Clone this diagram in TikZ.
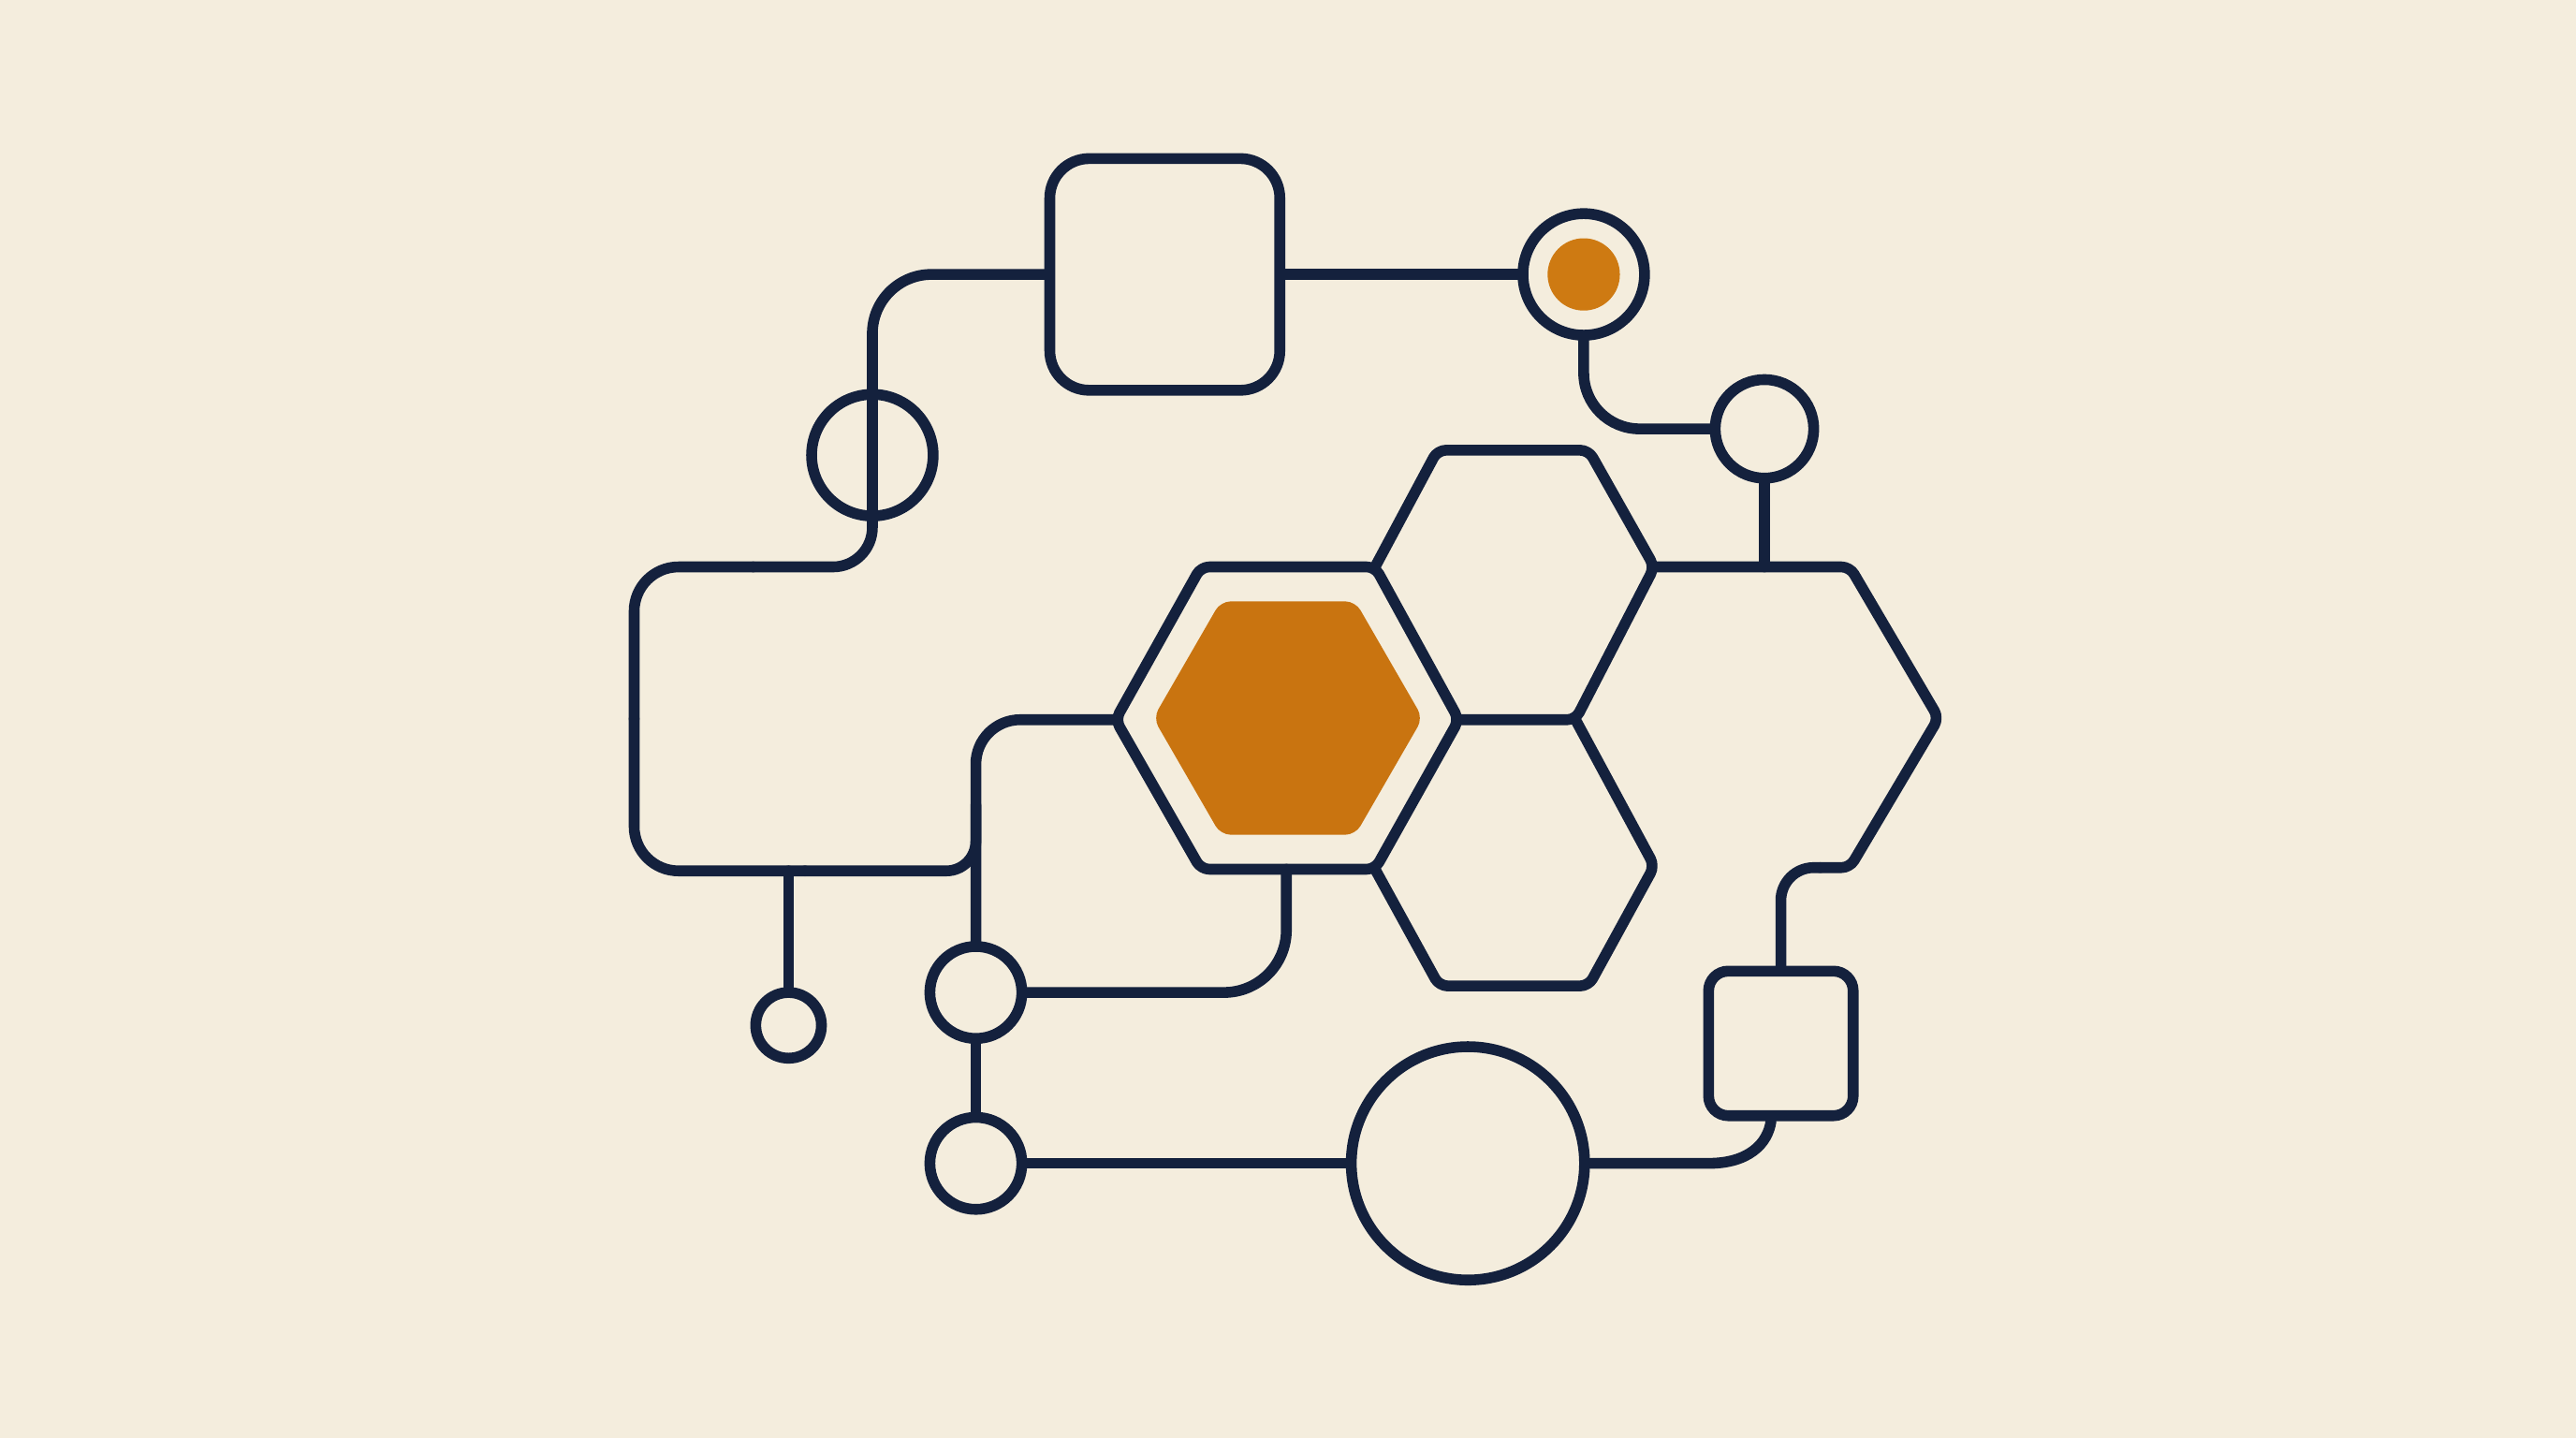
\documentclass[tikz,border=0pt]{standalone}
\usetikzlibrary{calc}
\definecolor{navy}{HTML}{14213D}
\definecolor{ochre}{HTML}{C97410}
\definecolor{dotc}{HTML}{CE7A12}
\definecolor{paper}{HTML}{F4EDDD}
\begin{document}
\begin{tikzpicture}[x=0.5pt,y=-0.5pt,
  conn/.style={draw=navy, line width=3.3pt, line cap=round, line join=round},
  ring/.style={circle, draw=navy, line width=3.3pt, inner sep=0pt},
  box/.style={rectangle, draw=navy, line width=3.3pt, inner sep=0pt},
  hexline/.style={conn, rounded corners=2.5pt}]
\fill[paper] (0,0) rectangle (1568,875);
\useasboundingbox (0,0) rectangle (1568,875);

% hexagon vertices
\coordinate (a1) at (679,438);
\coordinate (a2) at (731,345);
\coordinate (a3) at (837,345);
\coordinate (a4) at (888,438);
\coordinate (a5) at (837,529);
\coordinate (a6) at (731,529);
\coordinate (b1) at (875,274);
\coordinate (b2) at (967,274);
\coordinate (b3) at (1007,345);
\coordinate (b4) at (959,438);
\coordinate (c1) at (1007,527);
\coordinate (c2) at (967,600);
\coordinate (c3) at (876,600);
\coordinate (d1) at (1126,345);
\coordinate (d2) at (1180,437);
\coordinate (d3) at (1126,528);
\coordinate (d4) at (1108,528);

% orange core
\fill[ochre, rounded corners=3pt] (702,437) -- (743,366) -- (825,366) -- (866,437) -- (825,508) -- (743,508) -- cycle;

% hexagon outlines
\draw[hexline] (a1) -- (a2) -- (a3) -- (a4) -- (a5) -- (a6) -- cycle;
\draw[hexline] (a3) -- (b1) -- (b2) -- (b3) -- (b4) -- (a4);
\draw[hexline] (b4) -- (c1) -- (c2) -- (c3) -- (a5);
\draw[hexline] (b3) -- (d1) -- (d2) -- (d3) -- (d4);

% nodes
\node[box, rounded corners=12pt, minimum width=70pt, minimum height=70.5pt] (S1) at (709,167) {};
\node[ring, minimum size=37pt] (C1) at (964,167) {};
\node[circle, fill=dotc, minimum size=22pt, inner sep=0pt] (D1) at (C1) {};
\node[ring, minimum size=30pt] (C2) at (1074,261) {};
\node[ring, minimum size=37pt] (C3) at (531,277) {};
\node[ring, minimum size=28pt] (C4) at (594,604) {};
\node[ring, minimum size=28pt] (C5) at (594,708) {};
\node[ring, minimum size=71pt] (C6) at (893.5,708) {};
\node[ring, minimum size=20pt] (C7) at (480,624) {};
\node[box, rounded corners=6pt, minimum width=44pt, minimum height=44pt] (S2) at (1084,635) {};

% helper coordinates
\coordinate (h4top) at (C2 |- d1);
\coordinate (L1) at (386,345);
\coordinate (L2) at (386,530);
\coordinate (L3) at (594,530);
\coordinate (m1) at ($(C3.south |- L1)!0.5!(L1)$);
\coordinate (m2) at ($(L1)!0.5!(L2)$);
\coordinate (m3) at ($(L2)!0.5!(L3)$);
\coordinate (m4) at ($(L3)+(0,-40)$);
\coordinate (h1bot) at (783,529);
\coordinate (c7top) at (C7 |- L2);
\coordinate (e1) at (1040,708);
\coordinate (e2) at ($(S2.south)+(-6,0)$);

% connectors
\draw[conn] (S1.east) -- (C1.west);
\draw[conn, rounded corners=17pt] (C1.south) |- (C2.west);
\draw[conn] (C2.south) -- (h4top);
\draw[conn, rounded corners=18pt] (S1.west) -| (C3.north);
\draw[conn] (C3.north) -- (C3.south);
\draw[conn, rounded corners=12pt] (C3.south) |- (m1);
\draw[conn, rounded corners=13.5pt] (m1) -| (m2);
\draw[conn, rounded corners=13.5pt] (m2) |- (m3);
\draw[conn, rounded corners=9pt] (m3) -| (m4);
\draw[conn, rounded corners=13.5pt] (a1) -| (C4.north);
\draw[conn] (C4.south) -- (C5.north);
\draw[conn] (c7top) -- (C7.north);
\draw[conn, rounded corners=19pt] (C4.east) -| (h1bot);
\draw[conn] (C5.east) -- (C6.west);
\draw[conn] (C6.east) -- (e1) .. controls ($(e1)+(24,0)$) and ($(e2)+(-2,14)$) .. (e2);
\draw[conn, rounded corners=10pt] (d4) -| (S2.north);
\end{tikzpicture}
\end{document}
